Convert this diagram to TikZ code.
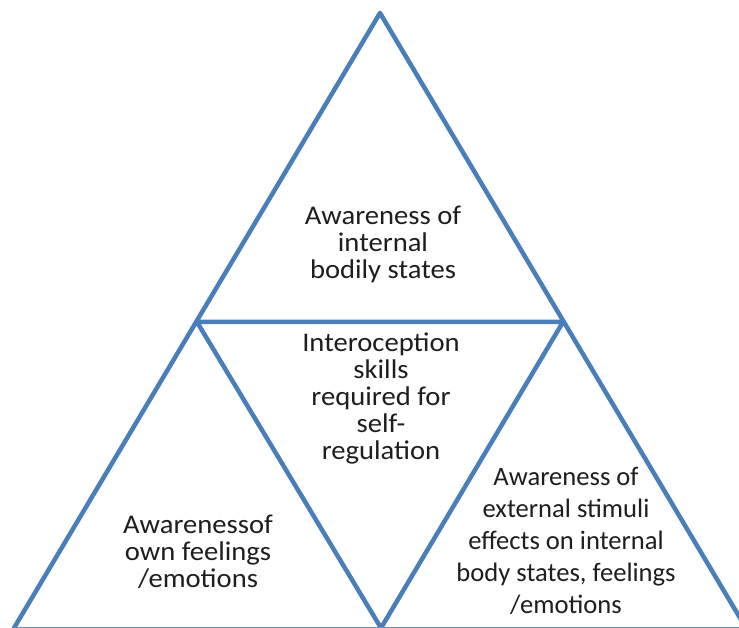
\documentclass[tikz,border=0pt]{standalone}
\usepackage{fontspec}
\setmainfont{Carlito}
\usetikzlibrary{positioning}
\definecolor{edgeblue}{HTML}{4A7EBB}
\definecolor{inkgray}{HTML}{1E1E1E}
\tikzset{
  side/.style={edgeblue,line width=4.5pt,line cap=round,line join=round},
  txt/.style={align=center,inkgray,inner sep=0pt,xscale=1.06,font=\fontsize{27}{27}\selectfont},
  bigtxt/.style={align=center,inkgray,inner sep=0pt,font=\fontsize{26.6}{32}\selectfont},
}

\begin{document}
\begin{tikzpicture}[x=1pt,y=-1pt]
\useasboundingbox (0,0) rectangle (739,628);
% corners of the triangles
\coordinate (apex) at (380,13);
\coordinate (midL) at (197,322);
\coordinate (midR) at (563,322);
\coordinate (botL) at (14,628);
\coordinate (botM) at (381,628);
\coordinate (botR) at (746,628);
\coordinate (edgeR) at (739,627);

\begin{scope}
\clip (0,0) rectangle (739,628);
\draw[side] (botL) -- (apex) -- (botR);
\draw[side] (midL) -- (midR) -- (botM) -- cycle;
\end{scope}
\draw[edgeblue!85,line width=1pt] (botL |- edgeR) -- (edgeR);

\node[txt] (body) at (383,244) {Awareness of\\internal\\bodily states};
\node[txt] (core) at (381,398) {Interoception\\skills\\required for\\self-\\regulation};
\node[txt] (own) at (198,552) {Awarenessof\\own feelings\\/emotions};
\node[bigtxt] (extern) at (566,541) {Awareness of\\external stimuli\\effects on internal\\body states, feelings\\/emotions};
\end{tikzpicture}
\end{document}
